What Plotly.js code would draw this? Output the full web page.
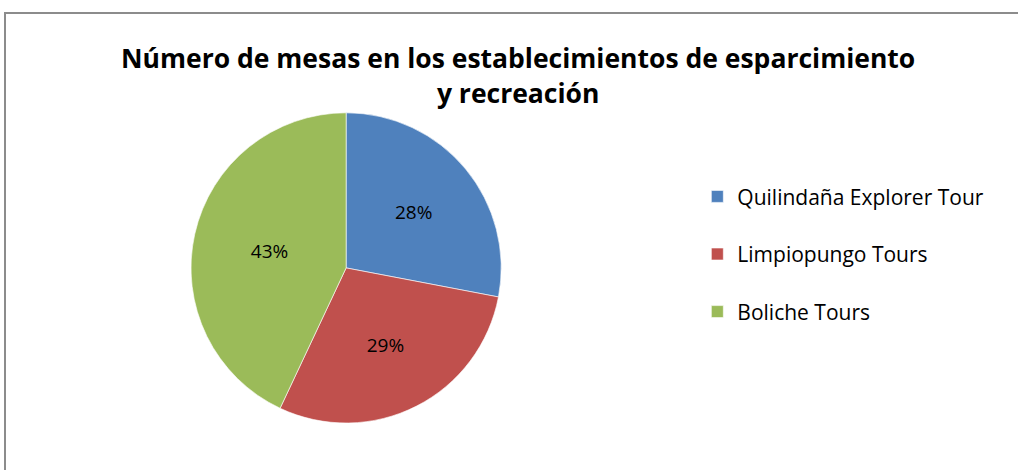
<!DOCTYPE html>
<html>
<head>
<meta charset="utf-8">
<script src="https://cdn.plot.ly/plotly-3.0.1.min.js"></script>
<style>
  html, body { margin: 0; padding: 0; background: #ffffff; }
  #wrap { position: relative; width: 1018px; height: 470px; overflow: hidden; background: #fff; }
  #frame { position: absolute; left: 4px; top: 12px; width: 1100px; height: 600px; border: 2px solid #8c8c8c; box-sizing: border-box; }
  #chart { position: absolute; left: 0; top: 0; width: 1018px; height: 470px; }
</style>
</head>
<body>
<div id="wrap">
  <div id="frame"></div>
  <div id="chart"></div>
</div>
<script>
// Data
const categories = ["Quilindaña Explorer Tour", "Limpiopungo Tours", "Boliche Tours"];
const percentages = [28, 29, 43];
const sliceColors = ["#4F81BD", "#C0504D", "#9BBB59"];
const chartTitle = "Número de mesas en los establecimientos de esparcimiento<br>y recreación";

const FONT = "'Open Sans', Lato, 'Liberation Sans', sans-serif";

const trace = {
  type: "pie",
  labels: categories.map(c => c + "<br> "),
  values: percentages,
  sort: false,
  direction: "clockwise",
  rotation: 0,
  marker: { colors: sliceColors, line: { color: "rgba(255,255,255,0.6)", width: 1 } },
  textinfo: "percent",
  texttemplate: "%{percent:.0%}",
  textposition: "inside",
  insidetextorientation: "horizontal",
  textfont: { family: FONT, size: 19, color: "#000000" },
  hovertemplate: "%{label}: %{percent}<extra></extra>",
  domain: { x: [0.15, 0.53], y: [0.1, 0.76] },
  showlegend: true
};

const layout = {
  width: 1018,
  height: 470,
  paper_bgcolor: "rgba(0,0,0,0)",
  plot_bgcolor: "rgba(0,0,0,0)",
  margin: { l: 0, r: 0, t: 0, b: 0 },
  title: {
    text: chartTitle,
    font: { family: FONT, size: 26.5, color: "#000000", weight: "bold" },
    x: 0.509,
    xanchor: "center",
    y: 0.855,
    yanchor: "top"
  },
  legend: {
    x: 0.685,
    y: 0.625,
    xanchor: "left",
    yanchor: "top",
    valign: "top",
    font: { family: FONT, size: 21, color: "#000000" },
    itemwidth: 30,
    bgcolor: "rgba(0,0,0,0)"
  }
};

Plotly.newPlot("chart", [trace], layout, { displayModeBar: false, staticPlot: true });
</script>
</body>
</html>
